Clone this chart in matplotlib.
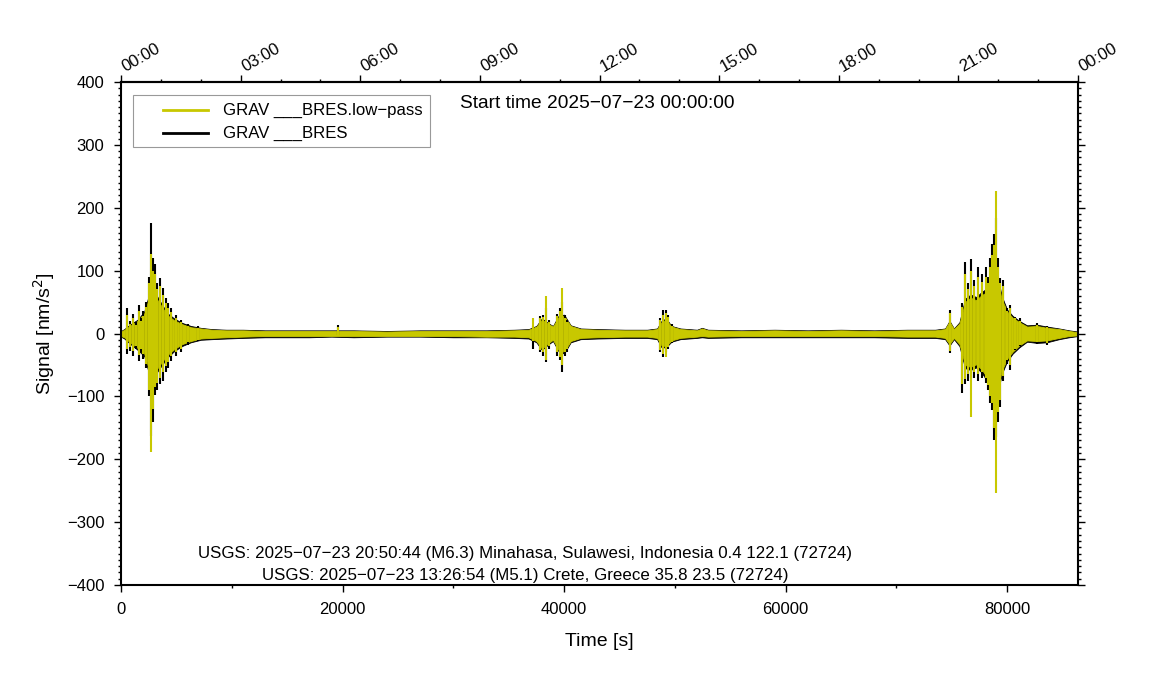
import numpy as np
import matplotlib.pyplot as plt
from matplotlib.ticker import MultipleLocator, FixedLocator
from matplotlib.transforms import ScaledTranslation
from matplotlib.patches import Rectangle
from matplotlib.lines import Line2D

plt.rcParams['font.family'] = ['Liberation Sans', 'DejaVu Sans']

YELLOW = '#c8c800'

# envelope of the raw gravimeter record (body of the trace), seconds / nm/s^2
raw_t = [0, 300, 800, 1500, 2100, 2500, 2900, 3300, 3700, 4200, 4800, 5500,
         6300, 7200, 8200, 9500, 11000, 13000, 15000, 17000, 19000, 21000,
         24000, 27000, 30000, 33000, 35500, 36800, 37500, 38000, 38600,
         39000, 39500, 40000, 40600, 41500, 43000, 45500, 47500, 48400,
         48800, 49200, 49700, 50500, 52000, 52450, 53000, 56000, 59000,
         62000, 65000, 68000, 71000, 73500, 74400, 74800, 75200, 75700,
         76200, 76700, 77200, 77700, 78200, 78700, 79100, 79500, 80000,
         80500, 81100, 81800, 82700, 83600, 84700, 85600, 86400]
raw_hi = [4, 7, 14, 22, 35, 60, 70, 58, 46, 32, 24, 17,
          12, 9, 7, 6, 6, 5, 5, 5, 5, 5,
          4, 5, 5, 5, 6, 7, 12, 24, 16,
          12, 28, 30, 13, 8, 7, 6, 6, 8,
          20, 24, 12, 8, 6, 9, 6, 5, 6,
          5, 6, 5, 6, 6, 8, 20, 8, 18,
          55, 62, 58, 66, 72, 90, 95, 60, 38,
          28, 20, 13, 14, 11, 8, 5, 3]
raw_lo = [-5, -8, -16, -26, -36, -62, -72, -60, -50, -38, -28, -20,
          -14, -10, -9, -8, -7, -6, -6, -6, -5, -6,
          -5, -5, -6, -6, -7, -8, -14, -26, -17,
          -12, -28, -32, -14, -9, -8, -7, -7, -9,
          -22, -22, -13, -9, -7, -6, -7, -6, -6,
          -6, -6, -6, -7, -7, -9, -19, -9, -20,
          -55, -58, -54, -62, -76, -95, -100, -65, -44,
          -32, -22, -13, -15, -14, -9, -6, -4]

# low-pass trace envelope (drawn on top)
lp_t = raw_t
lp_hi = [3, 6, 12, 20, 32, 55, 64, 53, 42, 29, 21, 15,
         10, 8, 6, 5, 5, 4, 4, 4, 4, 4,
         3, 4, 4, 4, 5, 6, 11, 22, 15,
         11, 26, 28, 12, 7, 6, 5, 5, 7,
         18, 22, 11, 7, 5, 8, 5, 4, 5,
         4, 5, 4, 5, 5, 7, 19, 7, 16,
         50, 57, 53, 61, 66, 84, 88, 55, 35,
         25, 18, 11, 12, 9, 7, 4, 2]
lp_lo = [-4, -6, -14, -23, -32, -56, -66, -55, -45, -34, -25, -17,
         -12, -8, -7, -6, -5, -4, -4, -4, -4, -4,
         -4, -4, -4, -5, -5, -6, -12, -24, -15,
         -10, -26, -29, -12, -7, -6, -5, -5, -7,
         -19, -20, -11, -7, -5, -4, -5, -4, -4,
         -4, -4, -4, -5, -5, -7, -17, -7, -17,
         -50, -53, -49, -57, -70, -88, -92, -60, -40,
         -29, -19, -11, -12, -11, -7, -4, -3]

# individual peaks (thin spikes) of the raw record
raw_sp_t = [540, 810, 1080, 1355, 1625, 1805, 1985, 2257, 2528, 2708, 2890,
            3070, 3250, 3520, 3790, 4063, 4243, 4514, 4965, 5417, 6049, 6950,
            19590,
            37195, 37827, 38098, 38369, 38640, 39362, 39633, 39813, 40084, 40265,
            48660, 48931, 49202, 49383, 49744,
            74842, 75926, 76196, 76467, 76738, 77009, 77370, 77731, 78092,
            78273, 78453, 78634, 78815, 78995, 79176, 79356, 79627, 79988,
            80259, 80711, 81162, 82697, 83600]
raw_sp_hi = [40, 20, 31, 18, 46, 25, 35, 50, 90, 176, 120,
             111, 80, 88, 72, 56, 48, 40, 30, 21, 15, 12,
             13,
             12, 28, 30, 40, 22, 31, 40, 50, 30, 21,
             25, 37, 38, 30, 15,
             37, 49, 113, 80, 119, 85, 105, 95, 105,
             90, 120, 143, 159, 184, 120, 89, 85, 41,
             45, 27, 24, 16, 12]
raw_sp_lo = [-32, -28, -35, -25, -43, -30, -40, -55, -100, -163, -140,
             -98, -90, -80, -75, -61, -55, -43, -35, -30, -18, -12,
             -3,
             -24, -30, -35, -45, -25, -35, -42, -62, -35, -29,
             -30, -37, -30, -25, -15,
             -31, -95, -80, -75, -70, -70, -75, -70, -78,
             -90, -110, -122, -170, -165, -140, -117, -75, -48,
             -58, -27, -20, -16, -19]

# peaks of the low-pass trace
lp_sp_t = [540, 810, 1080, 1355, 1625, 1805, 1985, 2257, 2528, 2708, 2890,
           3070, 3250, 3520, 3790, 4063, 4243, 4514, 4965, 5417, 6049, 6950,
           19590,
           37195, 37827, 38098, 38369, 38640, 39362, 39633, 39813, 40084, 40265,
           48660, 48931, 49202, 49383, 49744,
           74842, 75926, 76196, 76467, 76738, 77009, 77370, 77731, 78092,
           78273, 78453, 78634, 78815, 78995, 79176, 79356, 79627, 79988,
           80259, 80711, 81162, 82697, 83600]
lp_sp_hi = [30, 15, 24, 14, 36, 20, 28, 42, 80, 127, 100,
            95, 70, 75, 62, 48, 40, 34, 25, 18, 12, 9,
            11,
            24, 24, 26, 60, 18, 28, 35, 73, 25, 18,
            22, 30, 32, 26, 12,
            33, 42, 95, 70, 100, 75, 90, 82, 90,
            80, 105, 125, 140, 227, 105, 80, 75, 36,
            40, 24, 20, 13, 10]
lp_sp_lo = [-25, -22, -28, -20, -34, -24, -33, -48, -90, -188, -120,
            -85, -78, -70, -62, -52, -46, -36, -30, -24, -14, -10,
            -2,
            -12, -26, -30, -42, -20, -30, -38, -50, -30, -24,
            -26, -33, -37, -22, -13,
            -28, -80, -72, -65, -133, -62, -65, -62, -70,
            -82, -100, -110, -150, -254, -125, -105, -68, -42,
            -50, -24, -18, -14, -15]

top_ticks = [0, 10800, 21600, 32400, 43200, 54000, 64800, 75600, 86400]
top_labels = ['00:00', '03:00', '06:00', '09:00', '12:00', '15:00', '18:00', '21:00', '00:00']

fig = plt.figure(figsize=(11.51, 7), dpi=100)
ax = fig.add_axes([121 / 1151, 115 / 700, 957 / 1151, 503 / 700])

ax.fill_between(raw_t, raw_lo, raw_hi, color='black', lw=0.6)
ax.vlines(raw_sp_t, raw_sp_lo, raw_sp_hi, color='black', lw=1.5)
ax.fill_between(lp_t, lp_lo, lp_hi, color=YELLOW, lw=0.6)
ax.vlines(lp_sp_t, lp_sp_lo, lp_sp_hi, color=YELLOW, lw=1.5)

ax.set_xlim(0, 86400)
ax.set_ylim(-400, 400)
ax.xaxis.set_major_locator(MultipleLocator(20000))
ax.xaxis.set_minor_locator(MultipleLocator(10000))
ax.yaxis.set_major_locator(MultipleLocator(100))
ax.yaxis.set_minor_locator(MultipleLocator(10))
ax.yaxis.set_major_formatter(plt.FuncFormatter(lambda v, p: f'{v:.0f}'.replace('-', '\u2212')))
ax.tick_params(which='both', direction='out', labelsize=12, right=True, width=1)
ax.tick_params(which='major', length=5)
ax.tick_params(which='minor', length=2.5)
ax.tick_params(axis='x', pad=7)
ax.tick_params(axis='y', pad=7)
for s in ax.spines.values():
    s.set_linewidth(1.5)

top = ax.secondary_xaxis('top')
top.xaxis.set_major_locator(FixedLocator(top_ticks))
top.xaxis.set_minor_locator(MultipleLocator(3600))
top.set_xticklabels(top_labels, rotation=30, ha='left', va='bottom', rotation_mode='anchor')
top.tick_params(which='both', direction='out', labelsize=12, width=1, pad=0.5)
top.tick_params(which='major', length=5)
top.tick_params(which='minor', length=2.5)
top.spines['top'].set_linewidth(1.5)
shift = ScaledTranslation(6 / 100, 0, fig.dpi_scale_trans)
for lab in top.get_xticklabels():
    lab.set_transform(lab.get_transform() + shift)

ax.set_xlabel('Time [s]', fontsize=14, labelpad=12)
ax.set_ylabel('Signal [nm/s$^2$]', fontsize=14, labelpad=7)

# legend box drawn the way the original shows it
def px(x, y):
    return (x - 121) / 957, (585 - y) / 503

x0, y0 = px(133, 147)
x1, y1 = px(430, 95)
ax.add_patch(Rectangle((x0, y0), x1 - x0, y1 - y0, transform=ax.transAxes,
                       facecolor='white', edgecolor='#999999', lw=0.8, zorder=5))
for yy, col, lab in [(110, YELLOW, 'GRAV ___BRES.low\u2212pass'), (133, 'black', 'GRAV ___BRES')]:
    a, b = px(163, yy)
    c, _ = px(208, yy)
    ax.add_line(Line2D([a, c], [b, b], transform=ax.transAxes, color=col, lw=2, zorder=6))
    tx, _ = px(223, yy)
    ax.text(tx, b, lab, transform=ax.transAxes, fontsize=12.1, ha='left', va='center', zorder=6)

ax.text((460 - 121) / 957, 1 - 22 / 503, 'Start time 2025\u221207\u221223 00:00:00',
        transform=ax.transAxes, fontsize=13.8, ha='left', va='center')
ax.text(0.422, 0.0636, 'USGS: 2025\u221207\u221223 20:50:44 (M6.3) Minahasa, Sulawesi, Indonesia 0.4 122.1 (72724)',
        transform=ax.transAxes, fontsize=12.2, ha='center', va='center')
ax.text(0.422, 0.018, 'USGS: 2025\u221207\u221223 13:26:54 (M5.1) Crete, Greece 35.8 23.5 (72724)',
        transform=ax.transAxes, fontsize=12.2, ha='center', va='center')

fig.savefig('out.png', dpi=100)
